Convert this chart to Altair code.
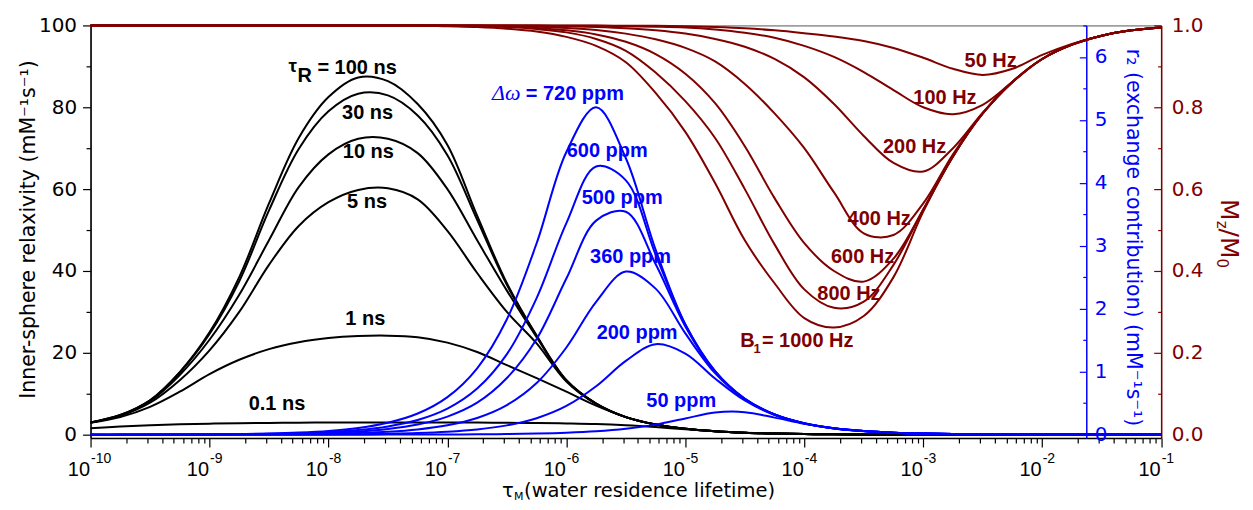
import altair as alt
import pandas as pd

# ---------------------------------------------------------------- data ----
# sampling grid: log10(tau_M / s)
log_tau = [-10.0, -9.75, -9.5, -9.25, -9.0, -8.75, -8.5, -8.25, -8.0, -7.75,
           -7.5, -7.25, -7.0, -6.75, -6.5, -6.25, -6.0, -5.75, -5.5, -5.25,
           -5.0, -4.75, -4.5, -4.25, -4.0, -3.75, -3.5, -3.25, -3.0, -2.75,
           -2.5, -2.25, -2.0, -1.75, -1.5, -1.25, -1.0]

# inner-sphere relaxivity (left axis), one curve per tau_R
tau_r_names = ["100 ns", "30 ns", "10 ns", "5 ns", "1 ns", "0.1 ns"]
r1_100ns = [3.0, 4.8, 8.4, 15.3, 25.0, 38.5, 56.5, 72.5, 82.5, 87.3, 86.4, 80.8, 70.8,
            53.5, 37.0, 24.2, 13.3, 7.6, 4.3, 2.5, 1.45, 0.85, 0.48, 0.27, 0.15, 0.09,
            0.05, 0.03, 0.015, 0.01, 0.0, 0.0, 0.0, 0.0, 0.0, 0.0, 0.0]
r1_30ns = [3.0, 4.8, 8.4, 15.2, 24.6, 37.5, 54.8, 69.8, 79.0, 83.3, 82.9, 78.0, 68.3,
           52.5, 36.6, 24.1, 13.3, 7.6, 4.3, 2.5, 1.45, 0.85, 0.48, 0.27, 0.15, 0.09,
           0.05, 0.03, 0.015, 0.01, 0.0, 0.0, 0.0, 0.0, 0.0, 0.0, 0.0]
r1_10ns = [3.0, 4.7, 8.2, 14.6, 23.2, 34.2, 47.5, 60.5, 68.5, 72.3, 72.3, 68.8, 60.0,
           47.5, 35.2, 23.8, 13.2, 7.6, 4.3, 2.5, 1.45, 0.85, 0.48, 0.27, 0.15, 0.09,
           0.05, 0.03, 0.015, 0.01, 0.0, 0.0, 0.0, 0.0, 0.0, 0.0, 0.0]
r1_5ns = [2.95, 4.6, 7.8, 13.3, 20.6, 30.0, 41.5, 51.0, 56.8, 59.8, 60.2, 57.5, 49.8,
          39.5, 30.0, 22.3, 13.0, 7.5, 4.3, 2.5, 1.45, 0.85, 0.48, 0.27, 0.15, 0.09,
          0.05, 0.03, 0.015, 0.01, 0.0, 0.0, 0.0, 0.0, 0.0, 0.0, 0.0]
r1_1ns = [2.9, 4.3, 6.8, 10.5, 14.8, 18.3, 20.9, 22.6, 23.6, 24.1, 24.2, 23.8, 22.5,
          20.2, 17.0, 13.8, 10.5, 7.1, 4.3, 2.5, 1.45, 0.85, 0.48, 0.27, 0.15, 0.09,
          0.05, 0.03, 0.015, 0.01, 0.0, 0.0, 0.0, 0.0, 0.0, 0.0, 0.0]
r1_01ns = [1.6, 2.0, 2.3, 2.55, 2.7, 2.8, 2.88, 2.94, 2.98, 3.0, 3.0, 3.0, 2.98,
           2.95, 2.9, 2.85, 2.75, 2.6, 2.3, 1.85, 1.3, 0.85, 0.5, 0.28, 0.16, 0.09,
           0.05, 0.03, 0.015, 0.01, 0.0, 0.0, 0.0, 0.0, 0.0, 0.0, 0.0]

# exchange contribution r2 (blue axis), one curve per chemical shift
shift_names = ["720 ppm", "600 ppm", "500 ppm", "360 ppm", "200 ppm", "50 ppm"]
r2_720ppm = [0.001, 0.001, 0.002, 0.003, 0.006, 0.011, 0.019, 0.034, 0.06, 0.107, 0.19,
             0.336, 0.597, 1.055, 1.833, 3.04, 4.49, 5.2, 4.39, 2.94, 1.75, 1.01, 0.57,
             0.321, 0.18, 0.101, 0.057, 0.032, 0.018, 0.01, 0.006, 0.003, 0.002, 0.001,
             0.001, 0.0, 0.0]
r2_600ppm = [0.0005, 0.001, 0.0015, 0.0025, 0.004, 0.0075, 0.013, 0.023, 0.042, 0.074,
             0.131, 0.233, 0.414, 0.733, 1.28, 2.17, 3.36, 4.26, 4.04, 2.86, 1.75, 1.01,
             0.571, 0.321, 0.181, 0.102, 0.0575, 0.032, 0.018, 0.01, 0.006, 0.003, 0.002,
             0.001, 0.001, 0.0, 0.0]
r2_500ppm = [0.0, 0.0005, 0.001, 0.002, 0.003, 0.005, 0.009, 0.016, 0.029, 0.051, 0.091,
             0.161, 0.287, 0.508, 0.90, 1.52, 2.48, 3.40, 3.54, 2.71, 1.72, 1.0, 0.57,
             0.322, 0.181, 0.102, 0.057, 0.032, 0.018, 0.01, 0.006, 0.003, 0.002, 0.001,
             0.001, 0.0, 0.0]
r2_360ppm = [0.0, 0.0, 0.0005, 0.001, 0.0015, 0.0025, 0.0045, 0.008, 0.015, 0.027, 0.047,
             0.084, 0.150, 0.266, 0.47, 0.82, 1.385, 2.11, 2.59, 2.32, 1.61, 0.977, 0.563,
             0.32, 0.18, 0.101, 0.057, 0.032, 0.018, 0.01, 0.006, 0.003, 0.002, 0.001,
             0.001, 0.0, 0.0]
r2_200ppm = [0.0, 0.0, 0.0, 0.0, 0.0005, 0.001, 0.0015, 0.0027, 0.0047, 0.0084, 0.0148,
             0.026, 0.047, 0.083, 0.148, 0.261, 0.456, 0.769, 1.172, 1.437, 1.289, 0.892,
             0.543, 0.312, 0.177, 0.100, 0.056, 0.032, 0.018, 0.01, 0.006, 0.003, 0.002,
             0.001, 0.001, 0.0, 0.0]
r2_50ppm = [0.0, 0.0, 0.0, 0.0, 0.0, 0.0, 0.0, 0.0, 0.0005, 0.0007, 0.001, 0.0017, 0.003,
            0.0054, 0.0095, 0.017, 0.030, 0.053, 0.094, 0.160, 0.258, 0.352, 0.358, 0.271,
            0.172, 0.100, 0.057, 0.032, 0.018, 0.01, 0.006, 0.003, 0.002, 0.001, 0.001,
            0.0, 0.0]

# saturation Mz/M0 (dark-red axis), one curve per B1
b1_names = ["50 Hz", "100 Hz", "200 Hz", "400 Hz", "600 Hz", "800 Hz", "1000 Hz"]
mz_50hz = [1.0, 1.0, 1.0, 1.0, 1.0, 1.0, 1.0, 1.0, 1.0, 1.0, 1.0, 1.0,
           1.0, 1.0, 1.0, 1.0, 1.0, 1.0, 0.999, 0.999, 0.998, 0.996, 0.993, 0.988, 0.981,
           0.973, 0.962, 0.945, 0.921, 0.894, 0.879, 0.894, 0.928, 0.955, 0.975, 0.988, 0.995]
mz_100hz = [1.0, 1.0, 1.0, 1.0, 1.0, 1.0, 1.0, 1.0, 1.0, 1.0, 1.0, 1.0,
            1.0, 1.0, 1.0, 1.0, 0.999, 0.999, 0.998, 0.997, 0.995, 0.99, 0.982, 0.97, 0.95,
            0.923, 0.886, 0.842, 0.800, 0.783, 0.806, 0.862, 0.918, 0.953, 0.975, 0.988, 0.995]
mz_200hz = [1.0, 1.0, 1.0, 1.0, 1.0, 1.0, 1.0, 1.0, 1.0, 1.0, 1.0, 1.0,
            1.0, 1.0, 0.999, 0.999, 0.998, 0.996, 0.993, 0.988, 0.98, 0.967, 0.948, 0.918,
            0.873, 0.808, 0.73, 0.664, 0.643, 0.70, 0.787, 0.862, 0.918, 0.953, 0.975, 0.988, 0.995]
mz_400hz = [1.0, 1.0, 1.0, 1.0, 1.0, 1.0, 1.0, 1.0, 1.0, 1.0, 1.0, 1.0,
            1.0, 0.999, 0.999, 0.997, 0.994, 0.989, 0.98, 0.966, 0.945, 0.912, 0.857, 0.785,
            0.70, 0.592, 0.492, 0.488, 0.565, 0.685, 0.785, 0.862, 0.918, 0.953, 0.975, 0.988, 0.995]
mz_600hz = [1.0, 1.0, 1.0, 1.0, 1.0, 1.0, 1.0, 1.0, 1.0, 1.0, 1.0, 1.0,
            0.999, 0.999, 0.997, 0.994, 0.988, 0.978, 0.96, 0.93, 0.882, 0.81, 0.705, 0.578,
            0.468, 0.4, 0.374, 0.43, 0.55, 0.68, 0.785, 0.862, 0.918, 0.953, 0.975, 0.988, 0.995]
mz_800hz = [1.0, 1.0, 1.0, 1.0, 1.0, 1.0, 1.0, 1.0, 1.0, 1.0, 1.0, 1.0,
            0.999, 0.998, 0.996, 0.991, 0.983, 0.967, 0.938, 0.885, 0.815, 0.725, 0.6, 0.465,
            0.355, 0.31, 0.325, 0.415, 0.55, 0.68, 0.785, 0.862, 0.918, 0.953, 0.975, 0.988, 0.995]
mz_1000hz = [1.0, 1.0, 1.0, 1.0, 1.0, 1.0, 1.0, 1.0, 1.0, 1.0, 1.0, 1.0,
             0.998, 0.996, 0.992, 0.985, 0.972, 0.95, 0.91, 0.835, 0.74, 0.615, 0.475, 0.37,
             0.285, 0.262, 0.29, 0.385, 0.545, 0.68, 0.785, 0.862, 0.918, 0.953, 0.975, 0.988, 0.995]

# x tick labels: 10^exponent
x_label_base = "10"
x_label_exponents = [-10, -9, -8, -7, -6, -5, -4, -3, -2, -1]

# ------------------------------------------------------------- styling ----
BLACK, BLUE, DRED = "#000000", "#0000ff", "#800000"
W, H = 1072.6, 413.3
PAD = {"left": 82.7, "top": 17, "right": 84, "bottom": 63.7}


def long_df(names, arrays, key):
    rows = []
    for name, arr in zip(names, arrays):
        assert len(arr) == len(log_tau), name
        for lt, v in zip(log_tau, arr):
            rows.append({"tau": 10.0 ** lt, key: v, "series": name})
    return pd.DataFrame(rows)


df_r1 = long_df(tau_r_names, [r1_100ns, r1_30ns, r1_10ns, r1_5ns, r1_1ns, r1_01ns], "r1")
df_r2 = long_df(shift_names, [r2_720ppm, r2_600ppm, r2_500ppm, r2_360ppm, r2_200ppm, r2_50ppm], "r2")
df_mz = long_df(b1_names, [mz_50hz, mz_100hz, mz_200hz, mz_400hz, mz_600hz, mz_800hz, mz_1000hz], "mz")


def cond_size(test, minor, major):
    return {"condition": {"test": test, "value": minor}, "value": major}


x_ticks = sorted([m * 10.0 ** e for e in range(-10, -1) for m in range(1, 10)] + [0.1])
x_axis = alt.Axis(
    values=x_ticks, labels=False, title=None, grid=False,
    domainColor=BLACK, domainWidth=1.5, tickColor=BLACK, tickWidth=1.2,
    tickSize=cond_size("abs(log(datum.value)/LN10 - round(log(datum.value)/LN10)) > 0.01", 5, 9),
)
X = alt.X("tau:Q", scale=alt.Scale(type="log", domain=[1e-10, 1e-1], nice=False), axis=x_axis)

left_axis = alt.Axis(
    orient="left", values=list(range(0, 101, 10)), grid=False,
    labelExpr="datum.value % 20 == 0 ? format(datum.value, 'd') : ''", labelOverlap=False,
    tickSize=cond_size("datum.value % 20 != 0", 4.5, 8),
    domainColor=BLACK, domainWidth=1.5, tickColor=BLACK, tickWidth=1.2,
    labelFont="DejaVu Sans", labelFontSize=20, labelColor=BLACK, labelPadding=6,
    title="Inner-sphere relaxivity (mM⁻¹s⁻¹)", titleFont="DejaVu Sans", titleFontSize=20.5,
    titleFontWeight="normal", titleColor=BLACK, titleAngle=270,
    titleX=-62, titleY=204, titleAlign="center", titleBaseline="middle",
)
blue_axis = alt.Axis(
    orient="left", offset=-997.6, values=[i * 0.5 for i in range(14)], grid=False,
    labelExpr="datum.value % 1 == 0 ? format(datum.value, 'd') : ''", labelOverlap=False,
    tickSize=cond_size("datum.value % 1 != 0", 3.5, 7),
    domainColor=BLUE, domainWidth=1.5, tickColor=BLUE, tickWidth=1.2,
    labelFont="DejaVu Sans", labelFontSize=20, labelColor=BLUE,
    labelAlign="left", labelPadding=-15,
    title="r₂ (exchange contribution) (mM⁻¹s⁻¹)", titleFont="DejaVu Sans", titleFontSize=20.5,
    titleFontWeight="normal", titleColor=BLUE, titleAngle=90,
    titleX=46, titleY=212, titleAlign="center", titleBaseline="middle",
)
red_axis = alt.Axis(
    orient="left", offset=-W, values=[i / 10 for i in range(11)], grid=False,
    labelExpr="round(datum.value*10) % 2 == 0 ? format(datum.value, '.1f') : ''", labelOverlap=False,
    tickSize=cond_size("round(datum.value*10) % 2 != 0", 3.5, 7.5),
    domainColor=DRED, domainWidth=1.5, tickColor=DRED, tickWidth=1.2,
    labelFont="DejaVu Sans", labelFontSize=20, labelColor=DRED,
    labelAlign="left", labelPadding=-17.5, title=None,
)

line_kw = dict(strokeWidth=2, interpolate="catmull-rom")
black = alt.Chart(df_r1).mark_line(color=BLACK, **line_kw).encode(
    x=X, y=alt.Y("r1:Q", scale=alt.Scale(domain=[-0.8, 100], nice=False, zero=False), axis=left_axis),
    detail="series:N")
blue = alt.Chart(df_r2).mark_line(color=BLUE, **line_kw).encode(
    x=X, y=alt.Y("r2:Q", scale=alt.Scale(domain=[-0.052, 6.5], nice=False, zero=False), axis=blue_axis),
    detail="series:N")
red = alt.Chart(df_mz).mark_line(color=DRED, **line_kw).encode(
    x=X, y=alt.Y("mz:Q", scale=alt.Scale(domain=[-0.008, 1.0], nice=False, zero=False), axis=red_axis),
    detail="series:N")

xlab_df = pd.DataFrame({
    "tau": [10.0 ** e for e in x_label_exponents],
    "base": [x_label_base for _ in x_label_exponents],
    "exp": [str(e) for e in x_label_exponents],
})
xlab_base = alt.Chart(xlab_df).mark_text(
    align="right", baseline="alphabetic", font="Liberation Sans", fontSize=20, color=BLACK, dx=-0.5
).encode(x=X, y=alt.value(451.5), text="base:N")
xlab_exp = alt.Chart(xlab_df).mark_text(
    align="left", baseline="alphabetic", font="Liberation Sans", fontSize=14, color=BLACK, dx=0.5
).encode(x=X, y=alt.value(438.3), text="exp:N")


def text_layer(rows, **mark_kw):
    df = pd.DataFrame(rows, columns=["text", "px", "py", "col", "fs"])
    return alt.Chart(df).mark_text(baseline="alphabetic", **mark_kw).encode(
        x=alt.X("px:Q", scale=None, axis=None),
        y=alt.Y("py:Q", scale=None, axis=None),
        text="text:N",
        color=alt.Color("col:N", scale=None),
        size=alt.Size("fs:Q", scale=None),
    )


# annotation placement (plot pixels)
labels_centered = [
    ("30 ns", 277.6, 93.3, BLACK, 20), ("10 ns", 278.3, 133.3, BLACK, 20),
    ("5 ns", 277.0, 183.3, BLACK, 20), ("1 ns", 275.3, 300.0, BLACK, 20),
    ("0.1 ns", 186.8, 385.0, BLACK, 20),
    ("600 ppm", 517.6, 131.7, BLUE, 20), ("500 ppm", 532.6, 179.0, BLUE, 20),
    ("360 ppm", 541.0, 238.3, BLUE, 20), ("200 ppm", 547.6, 314.3, BLUE, 20),
    ("50 ppm", 591.8, 382.0, BLUE, 20),
    ("50 Hz", 901.8, 41.7, DRED, 20), ("100 Hz", 856.0, 78.3, DRED, 20),
    ("200 Hz", 825.6, 128.3, DRED, 20), ("400 Hz", 790.1, 200.0, DRED, 20),
    ("600 Hz", 773.5, 238.3, DRED, 20), ("800 Hz", 759.8, 275.0, DRED, 20),
]
labels_left = [
    ("τ", 198.3, 47.0, BLACK, 19), ("R", 207.3, 57.0, BLACK, 20), ("= 100 ns", 227.3, 48.3, BLACK, 20),
    ("= 720 ppm", 436.0, 75.0, BLUE, 20),
    ("B", 651.0, 321.7, DRED, 20), ("1", 664.3, 328.3, DRED, 13), ("= 1000 Hz", 672.6, 321.7, DRED, 20),
]
labels_greek = [("Δω", 402.3, 75.0, BLUE, 22)]
x_title = [
    ("τ", 412.3, 472.5, BLACK, 19.5), ("M", 424.3, 475.5, BLACK, 11),
    ("(water residence lifetime)", 434.3, 472.5, BLACK, 19.5),
]
mz_title = [
    ("M", 1132.3, 174.0, DRED, 25), ("z", 1128.3, 195.6, DRED, 15), ("/", 1132.3, 203.5, DRED, 25),
    ("M", 1132.3, 211.9, DRED, 25), ("0", 1128.3, 233.5, DRED, 15),
]

t1 = text_layer(labels_centered, align="center", font="Liberation Sans", fontWeight="bold")
t2 = text_layer(labels_left, align="left", font="Liberation Sans", fontWeight="bold")
t3 = text_layer(labels_greek, align="left", font="Liberation Serif", fontStyle="italic")
t4 = text_layer(x_title, align="left", font="DejaVu Sans")
t5 = text_layer(mz_title, align="left", font="DejaVu Sans", angle=90)

chart = alt.layer(
    black, blue, red, xlab_base, xlab_exp, t1, t2, t3, t4, t5
).resolve_scale(y="independent").properties(
    width=W, height=H, autosize=alt.AutoSizeParams(type="none"), padding=PAD, background="white"
).configure_view(stroke="#555555", strokeWidth=1)

chart.save("out.html", embed_options={"renderer": "svg", "actions": False})
